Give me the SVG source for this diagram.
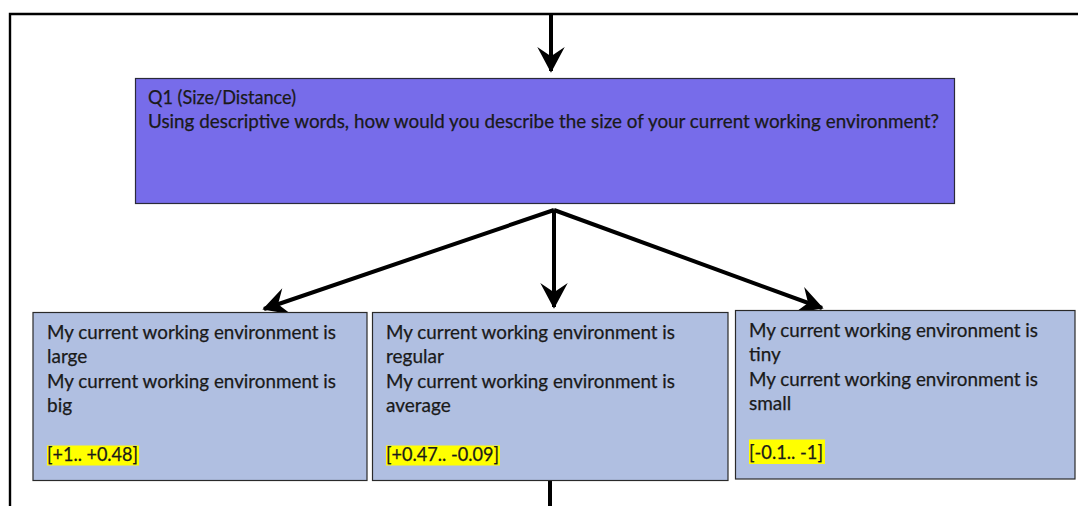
<svg xmlns="http://www.w3.org/2000/svg" width="1078" height="506" viewBox="0 0 1078 506">
  <style>
    .frame { fill: none; stroke: #000; stroke-width: 2.4; }
    .q { fill: #776CEA; stroke: #2a2a3a; stroke-width: 1.2; }
    .ans { fill: #B0BFE1; stroke: #2a2a2a; stroke-width: 1.2; }
    .txt { font-family: Lato, "Open Sans", sans-serif; font-size: 19px; fill: #1a1a1a; stroke: #1a1a1a; stroke-width: 0.25; }
    .hl { fill: #FFFF00; }
    .conn { fill: none; stroke: #000; stroke-width: 4; }
  </style>
  <defs>
    <marker id="arrow" markerUnits="userSpaceOnUse" markerWidth="32" markerHeight="32" viewBox="-24 -14 28 28" refX="0" refY="0" orient="auto">
      <path d="M1.5,0 L-21,-12 L-13,0 L-21,12 Z" fill="#000"/>
    </marker>
  </defs>

  <!-- enclosing frame -->
  <path class="frame" d="M1080,14 H10 V508"/>

  <g id="connectors">
    <line class="conn" x1="551" y1="14" x2="551" y2="71" marker-end="url(#arrow)"/>
    <line class="conn" x1="554" y1="210" x2="264" y2="309" marker-end="url(#arrow)"/>
    <line class="conn" x1="554" y1="210" x2="554" y2="307" marker-end="url(#arrow)"/>
    <line class="conn" x1="554" y1="210" x2="822" y2="308" marker-end="url(#arrow)"/>
    <line class="conn" x1="550" y1="481" x2="550" y2="508"/>
  </g>

  <g id="q1">
    <rect class="q" x="135.5" y="78.5" width="819" height="125"/>
    <text class="txt" x="148" y="104" textLength="148" lengthAdjust="spacingAndGlyphs">Q1 (Size/Distance)</text>
    <text class="txt" x="148" y="128" textLength="791" lengthAdjust="spacingAndGlyphs">Using descriptive words, how would you describe the size of your current working environment?</text>
  </g>

  <g id="large">
    <rect class="ans" x="33" y="312.5" width="334" height="168"/>
    <text class="txt" x="47" y="339" textLength="289" lengthAdjust="spacingAndGlyphs">My current working environment is</text>
    <text class="txt" x="47" y="363">large</text>
    <text class="txt" x="47" y="388" textLength="289" lengthAdjust="spacingAndGlyphs">My current working environment is</text>
    <text class="txt" x="47" y="412">big</text>
    <rect class="hl" x="47" y="445.5" width="92" height="20"/>
    <text class="txt" x="47" y="460.5" textLength="91" lengthAdjust="spacingAndGlyphs">[+1.. +0.48]</text>
  </g>

  <g id="regular">
    <rect class="ans" x="372.5" y="312.5" width="355.5" height="168"/>
    <text class="txt" x="386" y="339" textLength="289" lengthAdjust="spacingAndGlyphs">My current working environment is</text>
    <text class="txt" x="386" y="363">regular</text>
    <text class="txt" x="386" y="388" textLength="289" lengthAdjust="spacingAndGlyphs">My current working environment is</text>
    <text class="txt" x="386" y="412">average</text>
    <rect class="hl" x="386" y="445.5" width="114" height="20"/>
    <text class="txt" x="386" y="460.5" textLength="113" lengthAdjust="spacingAndGlyphs">[+0.47.. -0.09]</text>
  </g>

  <g id="small">
    <rect class="ans" x="735.5" y="310.5" width="339.5" height="168.5"/>
    <text class="txt" x="749" y="337" textLength="289" lengthAdjust="spacingAndGlyphs">My current working environment is</text>
    <text class="txt" x="749" y="361">tiny</text>
    <text class="txt" x="749" y="386" textLength="289" lengthAdjust="spacingAndGlyphs">My current working environment is</text>
    <text class="txt" x="749" y="410">small</text>
    <rect class="hl" x="749" y="439.5" width="76" height="24.5"/>
    <text class="txt" x="749" y="458.5" textLength="74" lengthAdjust="spacingAndGlyphs">[-0.1.. -1]</text>
  </g>
</svg>
